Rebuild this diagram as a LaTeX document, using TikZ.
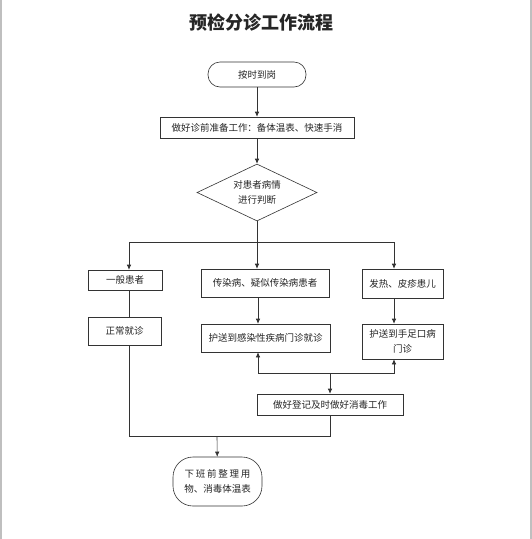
\documentclass[tikz,border=0pt]{standalone}
\usepackage{fontspec}
\newfontfamily\cjk{Noto Sans CJK SC}
\usetikzlibrary{arrows.meta,shapes.geometric}
\begin{document}
\begin{tikzpicture}[x=1pt,y=-1pt,
  every node/.style={font=\cjk\fontsize{9.5}{14.5}\selectfont, text=black!85, inner sep=0pt, align=center},
  flowbox/.style={draw=black!80, line width=0.6pt, rectangle},
  termbox/.style={draw=black!80, line width=0.6pt, rectangle, rounded corners=12pt},
  decbox/.style={draw=black!80, line width=0.6pt, diamond, shape aspect=2.1},
  conn/.style={draw=black!80, line width=0.6pt},
  arr/.style={conn, -{Latex[length=5pt,width=4.5pt]}}]
\useasboundingbox (0,0) rectangle (532,539);
\fill[white] (0,0) rectangle (532,539);
\draw[black!25, line width=2pt] (1,0) -- (1,539);
\draw[black!25, line width=2pt] (531,0) -- (531,539);

\node (title) at (261,23) {\cjk\bfseries\fontsize{18}{22}\selectfont 预检分诊工作流程};

\node[termbox, minimum width=98pt, minimum height=25pt] (start) at (257,74.5) {按时到岗};
\node[flowbox, minimum width=194pt, minimum height=21pt] (prep) at (257,127.5) {做好诊前准备工作：备体温表、快速手消};
\node[decbox, minimum width=120pt, minimum height=57pt] (dia) at (257,192.5) {对患者病情\\进行判断};

\node[flowbox, minimum width=74pt, minimum height=20pt] (b1) at (125,280) {一般患者};
\node[flowbox, minimum width=128pt, minimum height=28pt] (b2) at (265,283) {传染病、疑似传染病患者};
\node[flowbox, minimum width=81pt, minimum height=29pt] (b3) at (402.5,283.5) {发热、皮疹患儿};

\node[flowbox, minimum width=73pt, minimum height=28pt] (c1) at (124.5,331) {正常就诊};
\node[flowbox, minimum width=129pt, minimum height=28pt] (c2) at (265.5,338) {护送到感染性疾病门诊就诊};
\node[flowbox, minimum width=81pt, minimum height=35pt] (c3) at (402.5,341.5) {护送到手足口病\\门诊};

\node[flowbox, minimum width=146pt, minimum height=21pt] (d) at (330,404.5) {做好登记及时做好消毒工作};

\node[termbox, rounded corners=20pt, minimum width=89pt, minimum height=49pt] (endn) at (217.5,481.5)
  {\makebox[6.9em][s]{下 班 前 整 理 用}\\物、消毒体温表};

\coordinate (jA) at (257,242);
\coordinate (lL) at (129,242);
\coordinate (lR) at (394,242);
\coordinate (jB) at (330,373);
\coordinate (mL) at (258,373);
\coordinate (mR) at (394,373);
\coordinate (bL) at (129,436);
\coordinate (bR) at (330,436);
\coordinate (bM) at (217,436);

\draw[arr] (start) -- (prep);
\draw[arr] (prep) -- (dia);
\draw[conn] (dia.south) -- (jA);
\draw[arr] (jA) -- (lL) -- (lL |- b1.north);
\draw[arr] (jA) -- (lR) -- (lR |- b3.north);
\draw[arr] (jA) -- (jA |- b2.north);
\draw[conn] (lL |- b1.south) -- (lL |- c1.north);
\draw[arr] (mL |- b2.south) -- (mL |- c2.north);
\draw[arr] (lR |- b3.south) -- (lR |- c3.north);
\draw[arr] (jB) -- (mL) -- (mL |- c2.south);
\draw[arr] (jB) -- (mR) -- (mR |- c3.south);
\draw[arr] (jB) -- (d);
\draw[conn] (d.south) -- (bR) -- (bL) -- (lL |- c1.south);
\draw[arr] (bM) -- (endn);
\end{tikzpicture}
\end{document}
